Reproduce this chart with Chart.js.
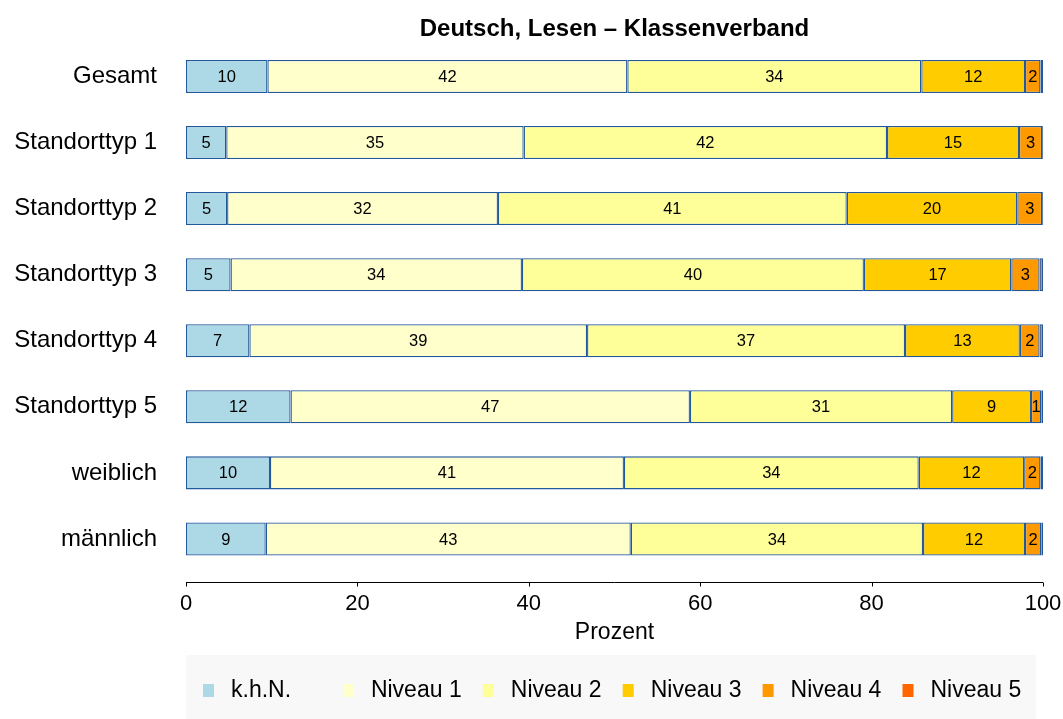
<!DOCTYPE html>
<html>
<head>
<meta charset="utf-8">
<script src="https://cdn.jsdelivr.net/npm/chart.js@4/dist/chart.umd.min.js"></script>
<style>
  html, body { margin: 0; padding: 0; background: #fff; }
  #wrap { width: 1063px; height: 719px; }
</style>
</head>
<body>
<div id="wrap"><canvas id="chart" width="1063" height="719"></canvas></div>
<script>
const categories = ["Gesamt", "Standorttyp 1", "Standorttyp 2", "Standorttyp 3", "Standorttyp 4", "Standorttyp 5", "weiblich", "männlich"];
const seriesNames = ["k.h.N.", "Niveau 1", "Niveau 2", "Niveau 3", "Niveau 4", "Niveau 5"];
const seriesColors = ["#ADD8E6", "#FFFFCC", "#FFFF99", "#FFCC00", "#FF9900", "#FF6600"];

const khn     = [9.5, 4.7, 4.8, 5.2, 7.4, 12.2, 9.8, 9.3];
const niveau1 = [42.0, 34.7, 31.6, 34.0, 39.4, 46.6, 41.3, 42.6];
const niveau2 = [34.3, 42.4, 40.7, 39.9, 37.1, 30.6, 34.4, 34.1];
const niveau3 = [12.1, 15.4, 19.9, 17.2, 13.4, 9.2, 12.3, 11.9];
const niveau4 = [1.8, 2.7, 2.9, 3.3, 2.3, 1.2, 1.9, 1.9];
const niveau5 = [0.3, 0.1, 0.1, 0.4, 0.4, 0.2, 0.3, 0.2];

const xTicks = [0, 20, 40, 60, 80, 100];
const FONT = "'Liberation Sans', Arial, Helvetica, sans-serif";

const seriesValues = [khn, niveau1, niveau2, niveau3, niveau4, niveau5];

// R-like extras: title over plot area, detached x axis, value labels, legend box
const rStyle = {
  id: "rStyle",
  afterDatasetsDraw(chart) {
    const ctx = chart.ctx;
    ctx.save();
    ctx.font = "16.5px " + FONT;
    ctx.fillStyle = "#000";
    ctx.textAlign = "center";
    ctx.textBaseline = "middle";
    chart.data.datasets.forEach((ds, i) => {
      const meta = chart.getDatasetMeta(i);
      meta.data.forEach((bar, j) => {
        const v = Math.round(ds.data[j]);
        if (v < 1) return;
        ctx.fillText(String(v), (bar.x + bar.base) / 2, bar.y + 1);
      });
    });
    ctx.restore();
  },
  afterDraw(chart) {
    const ctx = chart.ctx;
    const area = chart.chartArea;
    const xs = chart.scales.x;
    ctx.save();

    // title centred over the plot region
    ctx.font = "bold 24px " + FONT;
    ctx.fillStyle = "#000";
    ctx.textAlign = "center";
    ctx.textBaseline = "middle";
    ctx.fillText("Deutsch, Lesen \u2013 Klassenverband", (area.left + area.right) / 2, 29);

    // axis line and ticks, detached below the bars
    const axisY = area.bottom + 10.5;
    ctx.strokeStyle = "#000";
    ctx.lineWidth = 1;
    ctx.beginPath();
    ctx.moveTo(xs.getPixelForValue(xTicks[0]), axisY);
    ctx.lineTo(xs.getPixelForValue(xTicks[xTicks.length - 1]), axisY);
    xs.ticks.forEach(t => {
      const px = Math.round(xs.getPixelForValue(t.value)) + 0.5;
      ctx.moveTo(px, axisY);
      ctx.lineTo(px, axisY + 4);
    });
    ctx.stroke();

    // legend
    ctx.fillStyle = "#F8F8F8";
    ctx.fillRect(186, 655, 850, 64);
    ctx.font = "23px " + FONT;
    ctx.textAlign = "left";
    ctx.textBaseline = "middle";
    chart.data.datasets.forEach((ds, i) => {
      const x0 = 203 + i * 139.9;
      ctx.fillStyle = ds.backgroundColor;
      ctx.fillRect(x0, 684, 11, 13);
      ctx.fillStyle = "#000";
      ctx.fillText(ds.label, x0 + 28, 691);
    });
    ctx.restore();
  }
};

new Chart(document.getElementById("chart").getContext("2d"), {
  type: "bar",
  data: {
    labels: categories,
    datasets: seriesNames.map((name, i) => ({
      label: name,
      data: seriesValues[i],
      backgroundColor: seriesColors[i],
      borderColor: "#23589A",
      borderWidth: 1.3,
      borderSkipped: false,
      categoryPercentage: 1,
      barPercentage: 0.5,
    })),
  },
  options: {
    indexAxis: "y",
    responsive: false,
    animation: false,
    layout: { padding: { top: 41, right: 20, bottom: 0, left: 0 } },
    plugins: {
      legend: { display: false },
      title: { display: false },
      tooltip: { enabled: false },
    },
    scales: {
      x: {
        stacked: true,
        min: 0,
        max: 100,
        afterFit(scale) {
          scale.height = 147;
          scale.paddingLeft = 0;
          scale.paddingRight = 0;
        },
        afterBuildTicks(scale) { scale.ticks = xTicks.map(v => ({ value: v })); },
        grid: { display: false, drawTicks: false },
        border: { display: false },
        ticks: { color: "#000", font: { family: FONT, size: 22 }, padding: 19, maxRotation: 0 },
        title: {
          display: true,
          text: "Prozent",
          color: "#000",
          font: { family: FONT, size: 23 },
          padding: { top: 0, bottom: 73 },
        },
      },
      y: {
        stacked: true,
        afterFit(scale) { scale.width = 186; },
        grid: { display: false, drawTicks: false },
        border: { display: false },
        ticks: { color: "#000", font: { family: FONT, size: 24 }, padding: 29 },
      },
    },
  },
  plugins: [rStyle],
});
</script>
</body>
</html>
